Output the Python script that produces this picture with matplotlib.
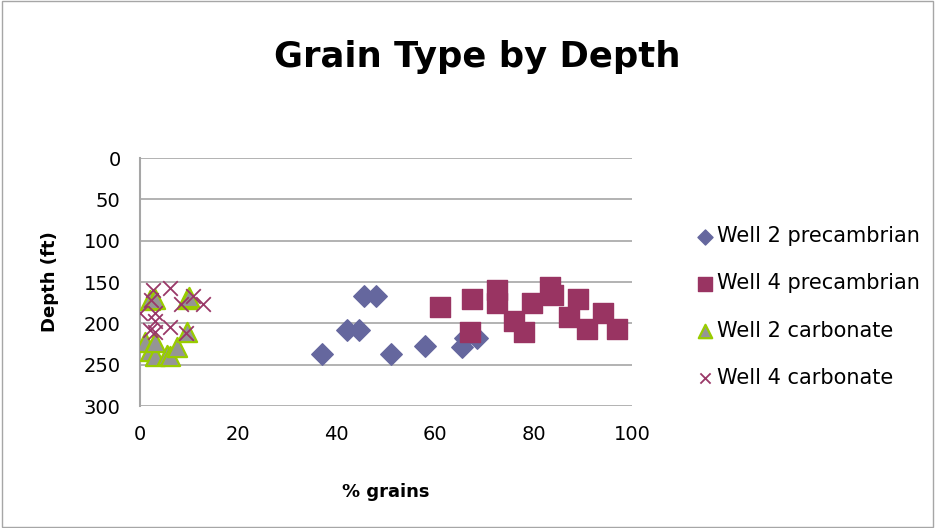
import matplotlib.pyplot as plt

plt.rcParams['font.family'] = ['DejaVu Sans']

# Well 2 precambrian (diamonds)
w2_pre_x = [45.5, 48, 42, 44.5, 37, 51, 58, 65.5, 66, 68.5]
w2_pre_y = [167, 167, 208, 208, 237, 237, 228, 229, 218, 218]

# Well 4 precambrian (squares)
w4_pre_x = [61, 67.4, 67.1, 72.6, 72.5, 76, 78, 79.6, 83.3, 84, 87.2, 89, 90.8, 94.2, 97]
w4_pre_y = [180, 170, 211, 160, 175, 197, 211, 175, 156, 166, 192, 171, 207, 187, 207]

# Well 2 carbonate (triangles)
w2_carb_x = [2, 3, 9.5, 10, 1, 2, 3, 5.5, 6, 7.5, 9.5, 3]
w2_carb_y = [172, 170, 170, 168, 222, 233, 240, 238, 240, 229, 210, 222]

# Well 4 carbonate (crosses)
w4_carb_x = [0, 2, 2.3, 3, 2.6, 3, 6, 6, 8.4, 9.4, 10.8, 12.8, 3]
w4_carb_y = [188, 208, 172, 197, 160, 188, 157, 205, 177, 212, 167, 177, 210]

x_ticks = [0, 20, 40, 60, 80, 100]
y_ticks = [0, 50, 100, 150, 200, 250, 300]

fig = plt.figure(figsize=(9.35, 5.28), dpi=100)
ax = fig.add_axes([140 / 935, 1 - 406 / 528, 492 / 935, 248 / 528])

ax.scatter(w2_pre_x, w2_pre_y, marker='D', s=120, color='#65679E', label='Well 2 precambrian', zorder=3)
ax.scatter(w4_pre_x, w4_pre_y, marker='s', s=190, color='#993462', label='Well 4 precambrian', zorder=3)
ax.scatter(w2_carb_x, w2_carb_y, marker='^', s=190, facecolor='#959595', edgecolor='#99CC00',
           linewidths=1.6, label='Well 2 carbonate', zorder=3)
ax.scatter(w4_carb_x, w4_carb_y, marker='x', s=110, color='#9A3868', linewidths=1.3,
           label='Well 4 carbonate', zorder=4)

ax.set_xlim(0, 100)
ax.set_ylim(300, 0)
ax.set_xticks(x_ticks)
ax.set_yticks(y_ticks)
ax.tick_params(axis='y', length=0, labelsize=14, pad=14)
ax.tick_params(axis='x', length=0, labelsize=14, pad=14)
ax.yaxis.grid(True, color='#A6A6A6', linewidth=1.2)
ax.set_axisbelow(True)
for side in ['top', 'right', 'bottom']:
    ax.spines[side].set_visible(False)
ax.spines['left'].set_color('#A6A6A6')
ax.spines['left'].set_linewidth(1.5)

fig.text(386 / 935, 1 - 492 / 528, '% grains', fontsize=13, fontweight='bold',
         ha='center', va='center')
fig.text(50 / 935, 1 - 282 / 528, 'Depth (ft)', fontsize=13, fontweight='bold',
         ha='center', va='center', rotation=90)
fig.text(477 / 935, 1 - 57 / 528, 'Grain Type by Depth', fontsize=25.5, fontweight='bold',
         ha='center', va='center')

leg = ax.legend(loc='center left', bbox_to_anchor=(683 / 935, 1 - 307 / 528),
                bbox_transform=fig.transFigure, frameon=False, fontsize=15,
                labelspacing=1.3, handletextpad=0.05, handlelength=1.1, markerscale=0.7,
                borderpad=0)

border = plt.Rectangle((0.002, 0.002), 0.996, 0.996, transform=fig.transFigure,
                       fill=False, edgecolor='#A6A6A6', linewidth=1)
fig.patches.append(border)

fig.savefig('out.png', dpi=100)
